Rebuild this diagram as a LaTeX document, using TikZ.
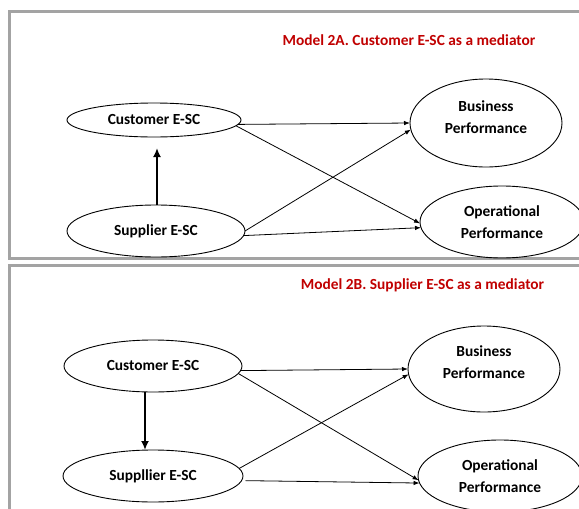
\documentclass[tikz,border=0pt]{standalone}
\usepackage{fontspec}
\setmainfont{Carlito}
\usetikzlibrary{shapes.geometric,arrows.meta}
\definecolor{framegray}{HTML}{A3A3A3}
\definecolor{titlered}{HTML}{C00000}
\begin{document}
\begin{tikzpicture}[x=1pt,y=-1pt,
  construct/.style={draw=black,line width=0.9pt,ellipse,inner sep=0pt,outer sep=0pt,
    align=center,font=\bfseries\fontsize{15.4}{22}\selectfont},
  panelframe/.style={draw=framegray,line width=3pt},
  heading/.style={text=titlered,inner sep=0pt,font=\bfseries\fontsize{15.4}{18}\selectfont},
  link/.style={-{Latex[length=6pt,width=4.5pt]},line width=0.8pt},
  mainlink/.style={-{Latex[length=9pt,width=8pt]},line width=2.4pt}
]
\useasboundingbox (0,0) rectangle (579,509);

% panel frames (open to the right and below)
\draw[panelframe] (9,11.5) rectangle (600,258.5);
\draw[panelframe] (9,265.5) rectangle (600,530);

% ---------- Model 2A ----------
\node[heading] (title1) at (409,40) {Model 2A. Customer E-SC as a mediator};

\node[construct,minimum width=174pt,minimum height=34pt] (cust1) at (154,120) {Customer E-SC};
\node[construct,minimum width=178pt,minimum height=52pt] (sup1) at (156,231) {Supplier E-SC};
\node[construct,minimum width=152pt,minimum height=88pt] (bus1) at (486,123)
  {\raisebox{1.5pt}[0pt][0pt]{\begin{tabular}{@{}c@{}}Business\\Performance\end{tabular}}};
\node[construct,minimum width=164pt,minimum height=72pt] (op1) at (502,222)
  {Operational\\Performance};

\draw[mainlink,shorten >=11pt] ([xshift=1pt]sup1.north) -- ([xshift=1pt]sup1.north |- cust1.south);
\draw[link] (cust1.-3) -- (bus1.west);
\draw[link] (cust1.-4) -- (op1.181);
\draw[link] (sup1.east) -- (bus1.185);
\draw[link] (sup1.-3) -- (op1.184);

% ---------- Model 2B ----------
\node[heading] (title2) at (422.5,285) {Model 2B. Supplier E-SC as a mediator};

\node[construct,minimum width=178pt,minimum height=52pt] (cust2) at (153,366) {Customer E-SC};
\node[construct,minimum width=180pt,minimum height=52pt] (sup2) at (153,476) {Suppllier E-SC};
\node[construct,minimum width=152pt,minimum height=86pt] (bus2) at (484,369)
  {\raisebox{2.5pt}[0pt][0pt]{\begin{tabular}{@{}c@{}}Business\\Performance\end{tabular}}};
\node[construct,minimum width=164pt,minimum height=72pt] (op2) at (500,476)
  {Operational\\Performance};

\draw[mainlink] ([xshift=-8pt]cust2.south) -- ([xshift=-8pt]cust2.south |- sup2.north);
\draw[link] (cust2.-3) -- (bus2.west);
\draw[link] (cust2.-5) -- (op2.183);
\draw[link] (sup2.5) -- (bus2.184);
\draw[link] ([xshift=4pt]sup2.-3) -- (op2.185);
\end{tikzpicture}
\end{document}
